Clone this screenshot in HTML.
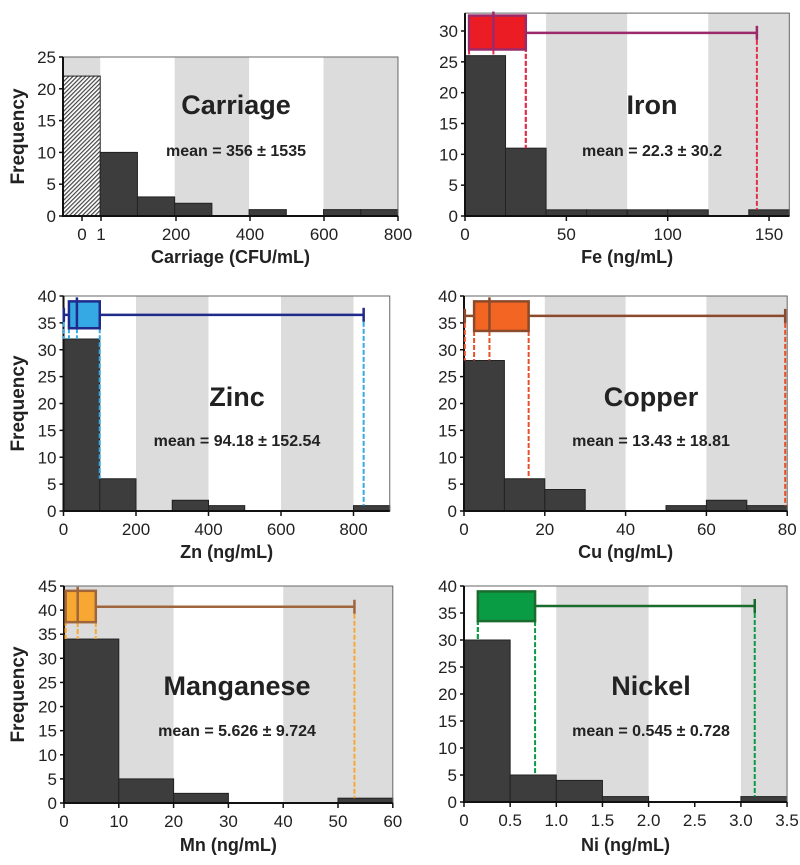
<!DOCTYPE html>
<html><head><meta charset="utf-8">
<style>
html,body{margin:0;padding:0;background:#fff;}
svg{display:block;font-family:"Liberation Sans",Arial,sans-serif;}
</style></head>
<body>
<svg id="chart" width="800" height="865" viewBox="0 0 800 865" xmlns="http://www.w3.org/2000/svg">
<defs>
<pattern id="hatch" patternUnits="userSpaceOnUse" width="3" height="3" patternTransform="rotate(45)">
<rect width="3" height="3" fill="#fff"/><rect width="1.2" height="3" fill="#444"/>
</pattern>
</defs>
</svg>
<script>
// ---- data ----
const carriageCounts = [22, 10, 3, 2, 0, 1, 0, 1, 1];
const carriageTicks = ["0", "1", "200", "400", "600", "800"];
const feCounts = [26, 11, 1, 1, 1, 1, 0, 1];
const feTicks = [0, 50, 100, 150];
const feBox = [2, 14, 30, 30, 144];
const znCounts = [32, 6, 0, 2, 1, 0, 0, 0, 1];
const znTicks = [0, 200, 400, 600, 800];
const znBox = [15, 37, 100, 1, 828];
const cuCounts = [28, 6, 4, 0, 0, 1, 2, 1];
const cuTicks = [0, 20, 40, 60, 80];
const cuBox = [2.5, 6.3, 16, 0.2, 79.5];
const mnCounts = [34, 5, 2, 0, 0, 1];
const mnTicks = [0, 10, 20, 30, 40, 50, 60];
const mnBox = [0.3, 2.5, 5.8, 0.3, 53];
const niCounts = [30, 5, 4, 1, 0, 0, 1];
const niTicks = [0, 0.5, 1.0, 1.5, 2.0, 2.5, 3.0, 3.5];
const niTickLabels = ["0", "0.5", "1.0", "1.5", "2.0", "2.5", "3.0", "3.5"];
const niBox = [0.15, null, 0.77, 0.15, 3.15];

const svg = document.getElementById('chart');
const NS = 'http://www.w3.org/2000/svg';
function mk(tag, attrs, parent) {
  const e = document.createElementNS(NS, tag);
  for (const k in attrs) e.setAttribute(k, attrs[k]);
  (parent || svg).appendChild(e);
  return e;
}
function txt(s, x, y, size, weight, anchor, parent) {
  const t = mk('text', {x: x, y: y, 'font-size': size, 'font-weight': weight, 'text-anchor': anchor, fill: '#222'}, parent);
  t.textContent = s;
  return t;
}

function panel(c) {
  const g = mk('g', {});
  
  
  const X = v => c.x0 + (v - c.xmin) * c.kx;
  const Y = v => c.y0 - v * c.ky;
  const top = Y(c.ymax);
  c.bands.forEach(b => {
    const r = mk('rect', {x: X(b[0]), y: top, width: X(b[1]) - X(b[0]), height: c.y0 - top, fill: '#dcdcdc'}, g);
    
    
  });
  c.counts.forEach((n, i) => {
    if (n <= 0) return;
    const a = c.xmin + i * c.bw, b = a + c.bw;
    const r = mk('rect', {x: X(a), y: Y(n), width: X(b) - X(a), height: c.y0 - Y(n), fill: (c.hatchFirst && i === 0) ? 'url(#hatch)' : '#3d3d3d', stroke: '#222', 'stroke-width': 1}, g);
    
    
  });
  mk('rect', {x: X(c.xmin), y: top, width: X(c.xmax) - X(c.xmin), height: c.y0 - top, fill: 'none', stroke: '#666', 'stroke-width': 1}, g);
  mk('line', {x1: X(c.xmin), y1: top, x2: X(c.xmin), y2: c.y0, stroke: '#111', 'stroke-width': 2}, g);
  mk('line', {x1: X(c.xmin) - 1, y1: c.y0, x2: X(c.xmax), y2: c.y0, stroke: '#111', 'stroke-width': 2}, g);
  for (let v = 0; v <= c.ymax + 1e-9; v += c.ystep) {
    mk('line', {x1: X(c.xmin) - 4, y1: Y(v), x2: X(c.xmin), y2: Y(v), stroke: '#111', 'stroke-width': 1.5}, g);
    const t = txt(String(v), X(c.xmin) - 7, Y(v) + 6, 17, 'normal', 'end', g);
    
    
  }
  c.xticks.forEach((v, i) => {
    const px = c.tickPx ? c.tickPx[i] : X(v);
    mk('line', {x1: px, y1: c.y0, x2: px, y2: c.y0 + 5, stroke: '#111', 'stroke-width': 1.5}, g);
    const t = txt(c.tickLabels ? c.tickLabels[i] : String(v), px, c.y0 + 24, 17, 'normal', 'middle', g);
    
    
  });
  if (c.box) {
    const [q1, med, q3, wmin, wmax] = c.box;
    const yl = Y(c.boxLo), yh = Y(c.boxHi), yw = Y(c.whisk);
    const binH = v => { const i = Math.min(c.counts.length - 1, Math.floor((v - c.xmin) / c.bw)); return Y(c.counts[i]); };
    [wmin, q1, med, q3, wmax].forEach(v => {
      if (v === null) return;
      const l = mk('line', {x1: X(v), y1: (v === wmax || v === wmin) ? yw : yl, x2: X(v), y2: binH(v), stroke: c.dash, 'stroke-width': 2, 'stroke-dasharray': '5,2'}, g);
      
      
    });
    const w = mk('line', {x1: X(wmin), y1: yw, x2: X(wmax), y2: yw, stroke: c.line, 'stroke-width': 2.5}, g);
    
    
    if (wmin < q1) mk('line', {x1: X(wmin), y1: yw - 7, x2: X(wmin), y2: yw + 7, stroke: c.line, 'stroke-width': 2.5}, g);
    mk('line', {x1: X(wmax), y1: yw - 7, x2: X(wmax), y2: yw + 7, stroke: c.line, 'stroke-width': 2.5}, g);
    const b = mk('rect', {x: X(q1), y: yh, width: X(q3) - X(q1), height: yl - yh, fill: c.fill, stroke: c.line, 'stroke-width': 2.5}, g);
    
    
    if (med !== null) mk('line', {x1: X(med), y1: yh - 4, x2: X(med), y2: yl, stroke: c.line, 'stroke-width': 2.5}, g);
  }
  const cx = c.cx;
  let t = txt(c.title, cx, c.ty, 27, 'bold', 'middle', g);
  
  
  t = txt(c.mean, cx, c.my, 16, 'bold', 'middle', g);
  
  
  t = txt(c.xlabel, (X(c.xmin) + X(c.xmax)) / 2, c.xly, 18, 'bold', 'middle', g);
  
  
  if (c.ylabel) {
    t = txt('Frequency', 0, 0, 19, 'bold', 'middle', g);
    t.setAttribute('transform', 'translate(' + 24 + ',' + ((top + c.y0) / 2) + ') rotate(-90)');
    
    
  }
}

panel({name: 'carriage', x0: 63, xmin: -100, xmax: 800, kx: 0.3722, bw: 100, y0: 216, ky: 6.36, ymax: 25, ystep: 5,
  counts: carriageCounts, hatchFirst: true, bands: [[-100, 0], [200, 400], [600, 800]],
  xticks: [0, 1, 200, 400, 600, 800], tickLabels: carriageTicks, tickPx: [82, 101, 176, 250, 324, 398],
  title: 'Carriage', mean: 'mean = 356 ± 1535', xlabel: 'Carriage (CFU/mL)', cx: 236, ty: 114, my: 156, xly: 263, ylabel: true});
panel({name: 'iron', x0: 465, xmin: 0, xmax: 160, kx: 2.027, bw: 20, y0: 216, ky: 6.167, ymax: 32.9, ystep: 5,
  counts: feCounts, bands: [[40, 80], [120, 160]], xticks: feTicks,
  box: feBox, boxLo: 27, boxHi: 32.5, whisk: 29.7, fill: '#ec1c24', line: '#9b2a6a', dash: '#e0304a',
  title: 'Iron', mean: 'mean = 22.3 ± 30.2', xlabel: 'Fe (ng/mL)', cx: 652, ty: 114, my: 156, xly: 263});
panel({name: 'zinc', x0: 63.5, xmin: 0, xmax: 900, kx: 0.3625, bw: 100, y0: 511, ky: 5.375, ymax: 40, ystep: 5,
  counts: znCounts, bands: [[200, 400], [600, 800]], xticks: znTicks,
  box: znBox, boxLo: 34, boxHi: 39, whisk: 36.5, fill: '#35a9e3', line: '#1f2a8a', dash: '#35a9e3',
  title: 'Zinc', mean: 'mean = 94.18 ± 152.54', xlabel: 'Zn (ng/mL)', cx: 237, ty: 406, my: 446, xly: 558, ylabel: true});
panel({name: 'copper', x0: 464, xmin: 0, xmax: 80, kx: 4.04, bw: 10, y0: 511, ky: 5.375, ymax: 40, ystep: 5,
  counts: cuCounts, bands: [[20, 40], [60, 80]], xticks: cuTicks,
  box: cuBox, boxLo: 33.5, boxHi: 39, whisk: 36.3, fill: '#f26522', line: '#8b4a2b', dash: '#e8502a',
  title: 'Copper', mean: 'mean = 13.43 ± 18.81', xlabel: 'Cu (ng/mL)', cx: 651, ty: 406, my: 446, xly: 558});
panel({name: 'manganese', x0: 64, xmin: 0, xmax: 60, kx: 5.48, bw: 10, y0: 803, ky: 4.822, ymax: 45, ystep: 5,
  counts: mnCounts, bands: [[0, 20], [40, 60]], xticks: mnTicks,
  box: mnBox, boxLo: 37.5, boxHi: 44, whisk: 40.7, fill: '#f7a833', line: '#a0653a', dash: '#f7a833',
  title: 'Manganese', mean: 'mean = 5.626 ± 9.724', xlabel: 'Mn (ng/mL)', cx: 237, ty: 695, my: 736, xly: 851, ylabel: true});
panel({name: 'nickel', x0: 464, xmin: 0, xmax: 3.5, kx: 92.3, bw: 0.5, y0: 802, ky: 5.4, ymax: 40, ystep: 5,
  counts: niCounts, bands: [[1, 2], [3, 3.5]], xticks: niTicks, tickLabels: niTickLabels,
  box: niBox, boxLo: 33.5, boxHi: 39, whisk: 36.3, fill: '#0a9b45', line: '#1a6b2e', dash: '#0a9b45',
  title: 'Nickel', mean: 'mean = 0.545 ± 0.728', xlabel: 'Ni (ng/mL)', cx: 651, ty: 695, my: 736, xly: 851});
</script>
</body></html>
